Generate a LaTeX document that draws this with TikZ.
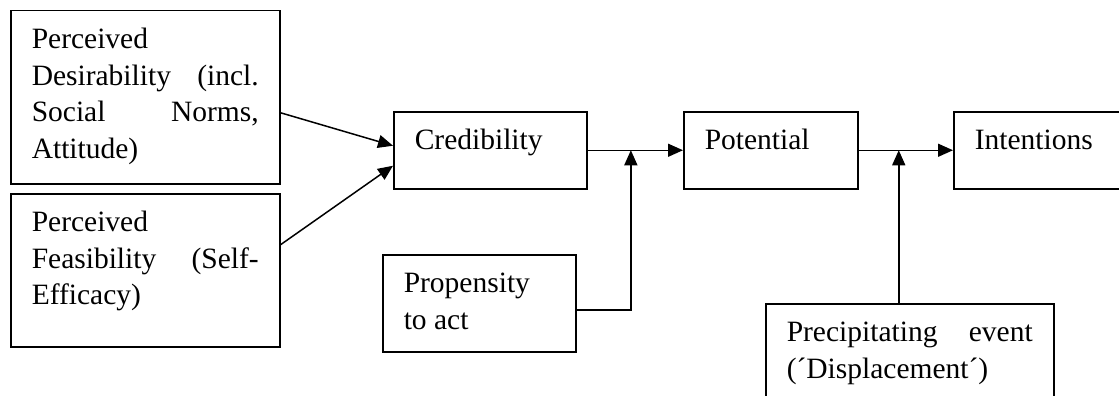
\documentclass[tikz,border=0pt]{standalone}
\usepackage{fontspec}
\setmainfont{Liberation Serif}
\usetikzlibrary{arrows.meta,calc}

\tikzset{
    box/.style={draw, line width=1.5pt, anchor=north west, align=justify,
        inner xsep=21pt, inner ysep=0pt, text height=38pt,
        font=\fontsize{29.5}{36.5}\selectfont},
    link/.style={line width=1.5pt, -{Triangle[length=15pt,width=13pt]}},
}

\begin{document}
\begin{tikzpicture}[x=1pt,y=-1pt]
    \useasboundingbox (0,0) rectangle (1119,396);

    % factors
    \node[box, text width=227pt, text depth=135pt] (des) at (10,10)
        {Perceived\\ Desirability (incl.\linebreak Social Norms,\linebreak Attitude)};
    \node[box, text width=227pt, text depth=115pt] (fea) at (10,193)
        {Perceived\\ Feasibility (Self-\linebreak Efficacy)};
    \node[box, text width=151pt, text depth=59pt] (prop) at (382,254)
        {Propensity\\ to act};
    \node[box, text width=246pt, text depth=77pt] (prec) at (765,303)
        {Precipitating event\linebreak (´Displacement´)};

    % main chain
    \node[box, text width=151pt, text depth=39pt] (cred) at (393,111) {Credibility};
    \node[box, text width=132pt, text depth=39pt] (pot) at (683,111) {Potential};
    \node[box, text width=190pt, text depth=39pt] (int) at (953,111) {Intentions};

    \coordinate (j1) at ($(cred.east)!0.454!(pot.west)$);
    \coordinate (j2) at ([xshift=-11pt]prec.north |- pot.east);

    \draw[link] ([yshift=-15.5pt]des.east) -- ([yshift=4.5pt]cred.west);
    \draw[link] ([yshift=25.5pt]fea.east) -- ([yshift=-15.5pt]cred.west);
    \draw[link] (cred.east) -- (pot.west);
    \draw[link] (pot.east) -- (int.west);
    \draw[link] ([yshift=-6.5pt]prop.east) -| (j1);
    \draw[link] ([xshift=-11pt]prec.north) -- (j2);
\end{tikzpicture}
\end{document}
